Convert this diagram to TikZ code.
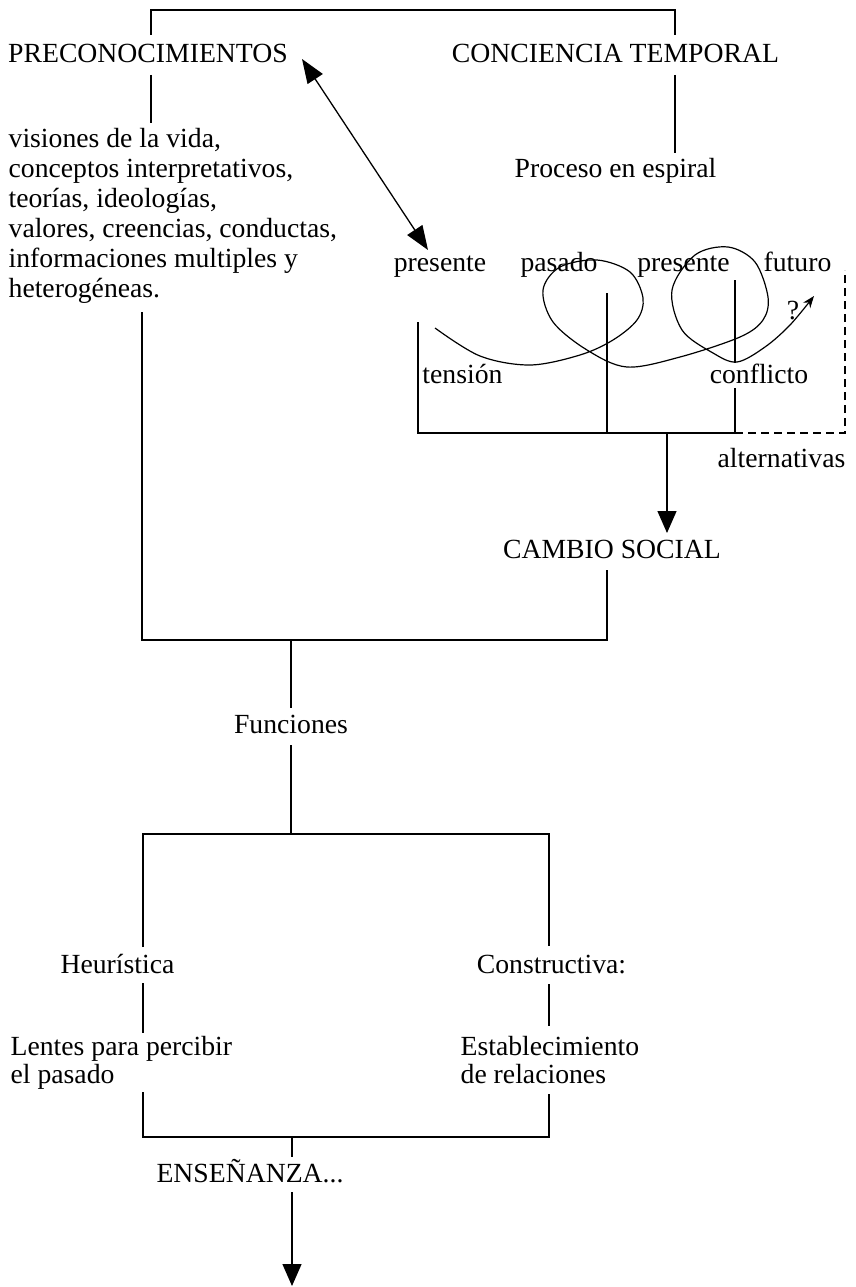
\documentclass[tikz,border=0pt]{standalone}
\usepackage{fontspec}
\setmainfont{Liberation Serif}
\usetikzlibrary{arrows.meta}
\begin{document}
\begin{tikzpicture}[x=1pt,y=-1pt, line width=1.3pt,
  lbl/.style={inner sep=0pt, anchor=base, font=\fontsize{27.7}{30}\selectfont},
  lblw/.style={lbl, anchor=base west},
  arr/.style={-{Triangle[length=22pt,width=19pt]}},
  dbl/.style={{Triangle[length=24pt,width=18pt]}-{Triangle[length=24pt,width=18pt]}},
  dsh/.style={dash pattern=on 8pt off 5pt}]
\useasboundingbox (0,0) rectangle (856,1287);

% ---------- texts ----------
\node[lbl] (pre) at (148,63) {PRECONOCIMIENTOS};
\node[lbl] (con) at (615.5,63) {CONCIENCIA TEMPORAL};
\node[lbl] (proc) at (615.5,177) {Proceso en espiral};
\node[lblw] (l1) at (8,147) {visiones de la vida,};
\node[lblw] (l2) at (8,177) {conceptos interpretativos,};
\node[lblw] (l3) at (8,207) {teorías, ideologías,};
\node[lblw] (l4) at (8,237) {valores, creencias, conductas,};
\node[lblw] (l5) at (8,267) {informaciones multiples y};
\node[lblw] (l6) at (8,297) {heterogéneas.};

\node[lbl] (pr1) at (440,271) {presente};
\node[lbl] (pas) at (559,271) {pasado};
\node[lbl] (pr2) at (683.5,271) {presente};
\node[lbl] (fut) at (797.5,271) {futuro};
\node[lbl] (ten) at (462.5,383) {tensión};
\node[lbl] (conf) at (759,383) {conflicto};
\node[lbl] (alt) at (781.5,467) {alternativas};
\node[lbl] (q) at (793,319) {?};
\node[lbl] (cs) at (612,558) {CAMBIO SOCIAL};

\node[lbl] (fun) at (291,733) {Funciones};
\node[lbl] (heu) at (117.5,973) {Heurística};
\node[lbl] (cons) at (551.5,973) {Constructiva:};
\node[lblw] (len1) at (10,1055) {Lentes para percibir};
\node[lblw] (len2) at (10,1083) {el pasado};
\node[lblw] (est1) at (460,1055) {Establecimiento};
\node[lblw] (est2) at (460,1083) {de relaciones};
\node[lbl] (ens) at (250,1182) {ENSEÑANZA...};

% ---------- coordinates ----------
\coordinate (tl) at (151,10);
\coordinate (tr) at (675,10);
\coordinate (preT) at (151,35);
\coordinate (conT) at (675,35);
\coordinate (preB) at (151,75);
\coordinate (visT) at (151,123);
\coordinate (conB) at (675,75);
\coordinate (procT) at (675,153);

\coordinate (hetB) at (142,312);
\coordinate (bl) at (142,640);
\coordinate (br) at (607,640);
\coordinate (csB) at (607,570);
\coordinate (funT) at (291,640);
\coordinate (funA) at (291,708);
\coordinate (funB) at (291,745);
\coordinate (boxT) at (291,834);

\coordinate (b1) at (143,834);
\coordinate (b2) at (549,834);
\coordinate (b3) at (143,1137);
\coordinate (b4) at (549,1137);
\coordinate (heuT) at (143,947);
\coordinate (heuB) at (143,983);
\coordinate (lenT) at (143,1033);
\coordinate (lenB) at (143,1092);
\coordinate (conT2) at (549,946);
\coordinate (conB2) at (549,984);
\coordinate (estT) at (549,1026);
\coordinate (estB) at (549,1094);
\coordinate (ensT) at (292,1137);
\coordinate (ensA) at (292,1157);
\coordinate (ensB) at (292,1192);
\coordinate (ensE) at (292,1286);

% spiral box
\coordinate (sl) at (418,322);
\coordinate (sbl) at (418,433);
\coordinate (sm) at (607,293);
\coordinate (sbm) at (607,433);
\coordinate (sr) at (735,280);
\coordinate (srm) at (735,363);
\coordinate (srb) at (735,388);
\coordinate (sbr) at (735,433);
\coordinate (dr) at (845,433);
\coordinate (dt) at (845,270);
\coordinate (csA) at (667,433);
\coordinate (csTip) at (667,533);

\coordinate (dA) at (302,59);
\coordinate (dB) at (428,250);

% ---------- lines ----------
\draw (preT) -- (tl) -- (tr) -- (conT);
\draw (preB) -- (visT);
\draw (conB) -- (procT);
\draw (hetB) -- (bl) -- (br) -- (csB);
\draw (funT) -- (funA);
\draw (funB) -- (boxT);
\draw (heuT) -- (b1) -- (b2) -- (conT2);
\draw (heuB) -- (lenT);
\draw (conB2) -- (estT);
\draw (lenB) -- (b3) -- (b4) -- (estB);
\draw (ensT) -- (ensA);
\draw[arr] (ensB) -- (ensE);

\draw (sl) -- (sbl) -- (sbr) -- (srb);
\draw (sm) -- (sbm);
\draw (sr) -- (srm);
\draw[dsh] (sbr) -- (dr) -- (dt);
\draw[arr] (csA) -- (csTip);

\draw[dbl] (dA) -- (dB);

% spiral curve
\draw[line width=1.2pt, -{Stealth[length=12pt,width=9pt]}] plot[smooth, tension=0.55] coordinates {
 (435,328) (480,356) (530,365) (580,355) (613,340) (637,320) (643,298)
 (630,272) (597,260) (560,267) (543,290) (553,322) (587,350) (627,367)
 (680,357) (740,337) (763,320) (768,297) (755,262) (728,247) (695,255)
 (672,290) (682,330) (713,353) (737,362) (765,347) (790,325) (814,296)};
\end{tikzpicture}
\end{document}
